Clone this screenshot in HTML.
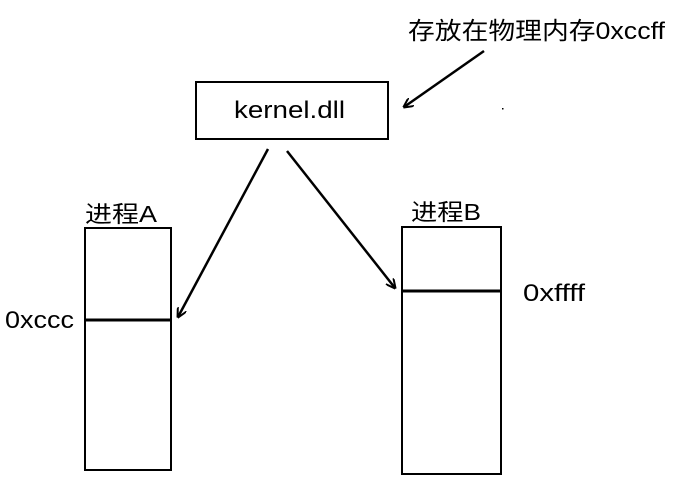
<!DOCTYPE html>
<html><head><meta charset="utf-8"><style>
body{margin:0;background:#fff;}
text{font-family:"Liberation Sans","Noto Sans CJK SC",sans-serif;fill:#000;}
</style></head><body>
<svg width="674" height="477" xmlns="http://www.w3.org/2000/svg">
<defs><marker id="a" markerWidth="10" markerHeight="10" refX="9" refY="5" orient="auto" markerUnits="userSpaceOnUse"><path d="M0,0 L10,5 L0,10" fill="none" stroke="#000" stroke-width="2"/></marker></defs>
<rect x="196" y="82" width="192" height="57" fill="none" stroke="#000" stroke-width="2"/>
<text x="234" y="118" font-size="24" textLength="111" lengthAdjust="spacingAndGlyphs">kernel.dll</text>
<text x="408" y="39" font-size="24" textLength="257" lengthAdjust="spacingAndGlyphs">存放在物理内存0xccff</text>
<rect x="85" y="228" width="86" height="242" fill="none" stroke="#000" stroke-width="2"/>
<line x1="85" y1="320" x2="171" y2="320" stroke="#000" stroke-width="3"/>
<rect x="402" y="227" width="99" height="247" fill="none" stroke="#000" stroke-width="2"/>
<line x1="402" y1="291" x2="501" y2="291" stroke="#000" stroke-width="3"/>
<text x="85" y="222" font-size="23" textLength="72" lengthAdjust="spacingAndGlyphs">进程A</text>
<text x="411" y="220" font-size="23" textLength="70" lengthAdjust="spacingAndGlyphs">进程B</text>
<text x="5" y="328" font-size="24" textLength="69" lengthAdjust="spacingAndGlyphs">0xccc</text>
<text x="523" y="301" font-size="24" textLength="62" lengthAdjust="spacingAndGlyphs">0xffff</text>
<line x1="484" y1="51" x2="404" y2="107" stroke="#000" stroke-width="2.5" marker-end="url(#a)"/>
<line x1="268" y1="149" x2="178" y2="317" stroke="#000" stroke-width="2.5" marker-end="url(#a)"/>
<line x1="287" y1="151" x2="395" y2="288" stroke="#000" stroke-width="2.5" marker-end="url(#a)"/>
<rect x="502" y="108" width="1.5" height="1.5" fill="#000"/>
</svg>
</body></html>
